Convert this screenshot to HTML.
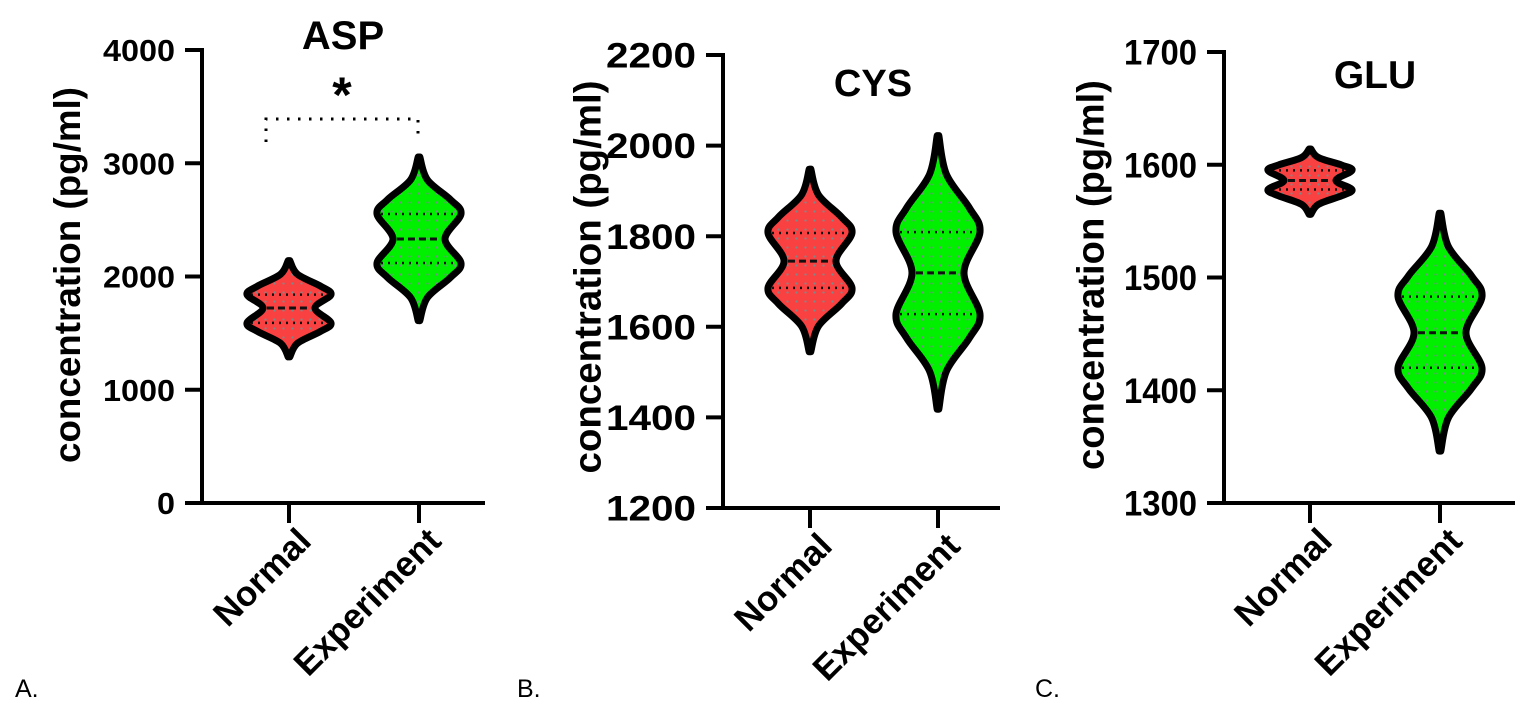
<!DOCTYPE html>
<html><head><meta charset="utf-8"><style>
html,body{margin:0;padding:0;background:#fff;}
svg{display:block;font-family:"Liberation Sans",Arial,sans-serif;}
</style></head><body>
<svg id="chart" width="1535" height="709" viewBox="0 0 1535 709" xmlns="http://www.w3.org/2000/svg">
<defs>
<pattern id="dots" patternUnits="userSpaceOnUse" width="9" height="9"><circle cx="4.5" cy="4.5" r="1.1" fill="#7a8a8a"/></pattern>
</defs>
</svg>
<script>
// ---- data ----
const categories = ["Normal", "Experiment"];
const panelTitles = ["ASP", "CYS", "GLU"];
const panelLetters = ["A.", "B.", "C."];
const ticksA = [0, 1000, 2000, 3000, 4000];
const ticksB = [1200, 1400, 1600, 1800, 2000, 2200];
const ticksC = [1300, 1400, 1500, 1600, 1700];
// [min, q1, median, q3, max]
const aspNormal = [1290, 1590, 1722, 1840, 2140];
const aspExperiment = [1610, 2119, 2331, 2552, 3055];
const cysNormal = [1545, 1686, 1745, 1807, 1948];
const cysExperiment = [1418, 1628, 1719, 1809, 2022];
const gluNormal = [1556, 1578, 1586, 1595, 1614];
const gluExperiment = [1346, 1420, 1451, 1483, 1557];

const NS = "http://www.w3.org/2000/svg";
const svg = document.getElementById("chart");
function mk(tag, attrs, parent) {
  const e = document.createElementNS(NS, tag);
  for (const k in attrs) e.setAttribute(k, attrs[k]);
  (parent || svg).appendChild(e);
  return e;
}

const panels = [
  {title: panelTitles[0], letter: panelLetters[0], ticks: ticksA, series: [aspNormal, aspExperiment],
   ax: 202, yTop: 50, yBot: 503, xEnd: 485, cx: [289, 419], hw: 42,
   tickFont: 31, tickLen: 72, labX: 67, labFont: 37, labLen: 376, labCy: 275,
   titleX: 343, titleY: 49, titleFont: 40, letterX: 15, sig: true},
  {title: panelTitles[1], letter: panelLetters[1], ticks: ticksB, series: [cysNormal, cysExperiment],
   ax: 723, yTop: 55, yBot: 508, xEnd: 1000, cx: [810, 938], hw: 42,
   tickFont: 35, tickLen: 90, labX: 587, labFont: 38, labLen: 393, labCy: 277,
   titleX: 873, titleY: 96, titleFont: 38, letterX: 517, sig: false},
  {title: panelTitles[2], letter: panelLetters[2], ticks: ticksC, series: [gluNormal, gluExperiment],
   ax: 1224, yTop: 52, yBot: 503, xEnd: 1515, cx: [1310, 1440], hw: 42,
   tickFont: 35, tickLen: 73, labX: 1090, labFont: 38, labLen: 390, labCy: 275,
   titleX: 1375, titleY: 88, titleFont: 39, letterX: 1035, sig: false}
];

function catmull(pts) {
  let d = "";
  for (let i = 0; i < pts.length - 1; i++) {
    const p0 = pts[Math.max(0, i - 1)], p1 = pts[i], p2 = pts[i + 1], p3 = pts[Math.min(pts.length - 1, i + 2)];
    const c1 = [p1[0] + (p2[0] - p0[0]) / 6, p1[1] + (p2[1] - p0[1]) / 6];
    const c2 = [p2[0] - (p3[0] - p1[0]) / 6, p2[1] - (p3[1] - p1[1]) / 6];
    d += ` C${c1[0].toFixed(1)},${c1[1].toFixed(1)} ${c2[0].toFixed(1)},${c2[1].toFixed(1)} ${p2[0].toFixed(1)},${p2[1].toFixed(1)}`;
  }
  return d;
}

panels.forEach((p, pi) => {
  const tmin = p.ticks[0], tmax = p.ticks[p.ticks.length - 1];
  const y = v => p.yBot - (v - tmin) / (tmax - tmin) * (p.yBot - p.yTop);
  const g = mk("g", {});
  
  

  const yAxis = mk("line", {x1: p.ax, y1: p.yTop - 2, x2: p.ax, y2: p.yBot + 2, stroke: "#000", "stroke-width": 4}, g);
  
  
  const xAxis = mk("line", {x1: p.ax - 2, y1: p.yBot, x2: p.xEnd, y2: p.yBot, stroke: "#000", "stroke-width": 4}, g);
  
  

  p.ticks.forEach(t => {
    const tk = mk("line", {x1: p.ax - 17, y1: y(t), x2: p.ax, y2: y(t), stroke: "#000", "stroke-width": 4}, g);
    
    
    const tl = mk("text", {x: p.ax - 27, y: y(t) + p.tickFont * 0.36, "text-anchor": "end", "font-size": p.tickFont, "font-weight": "bold",
      textLength: String(t).length === 1 ? p.tickLen / 4 : p.tickLen, lengthAdjust: "spacingAndGlyphs"}, g);
    tl.textContent = t;
    
    
  });

  const yl = mk("text", {x: 0, y: 0, "text-anchor": "middle", "font-size": p.labFont, "font-weight": "bold",
    textLength: p.labLen, lengthAdjust: "spacingAndGlyphs",
    transform: `translate(${p.labX + p.labFont * 0.35},${p.labCy}) rotate(-90)`}, g);
  yl.textContent = "concentration (pg/ml)";
  
  

  const tt = mk("text", {x: p.titleX, y: p.titleY, "text-anchor": "middle", "font-size": p.titleFont, "font-weight": "bold"}, g);
  tt.textContent = p.title;
  
  

  const lt = mk("text", {x: p.letterX, y: 697, "font-size": 25}, g);
  lt.textContent = p.letter;
  
  

  categories.forEach((c, ci) => {
    const cx = p.cx[ci];
    const tk = mk("line", {x1: cx, y1: p.yBot, x2: cx, y2: p.yBot + 20, stroke: "#000", "stroke-width": 4}, g);
    
    
    const cl = mk("text", {x: 0, y: 0, "text-anchor": "end", "font-size": 35, "font-weight": "bold",
      transform: `translate(${cx + 24},${p.yBot + 40}) rotate(-45)`}, g);
    cl.textContent = c;
    
    

    const s = p.series[ci];
    const [mn, q1, md, q3, mx] = s;
    const prof = [
      [mx, 0.02], [q3 + 0.6 * (mx - q3), 0.2], [q3 + 0.25 * (mx - q3), 0.75], [q3, 1],
      [md, 0.62], [q1, 1], [q1 - 0.25 * (q1 - mn), 0.75], [q1 - 0.6 * (q1 - mn), 0.2], [mn, 0.02]
    ];
    const right = prof.map(q => [cx + q[1] * p.hw, y(q[0])]);
    const left = prof.slice().reverse().map(q => [cx - q[1] * p.hw, y(q[0])]);
    let d = `M${cx},${y(mx)} L${right[0][0]},${right[0][1]}` + catmull(right) + ` L${cx},${y(mn)} L${left[0][0]},${left[0][1]}` + catmull(left) + " Z";
    const col = ci === 0 ? "#fa4141" : "#00f000";
    const vg = mk("g", {}, g);
    
    
    const body = mk("path", {d: d, fill: col, stroke: "none"}, vg);
    
    
    const dots = mk("path", {d: d, fill: "url(#dots)", stroke: "none"}, vg);
    
    
    [[q1, 1, "2 5", 2.5], [md, 0.62, "7 4", 3], [q3, 1, "2 5", 2.5]].forEach(L => {
      const ln = mk("line", {x1: cx - L[1] * p.hw + 4, x2: cx + L[1] * p.hw - 4, y1: y(L[0]), y2: y(L[0]),
        stroke: "#111", "stroke-width": L[3], "stroke-dasharray": L[2]}, vg);
      
      
    });
    const outline = mk("path", {d: d, fill: "none", stroke: "#000", "stroke-width": 7, "stroke-linejoin": "round"}, vg);
    
    
  });

  if (p.sig) {
    const by = 119, bb = 142;
    const br = mk("path", {d: `M${p.cx[0] - 23},${bb} L${p.cx[0] - 23},${by} L${p.cx[1] - 1},${by} L${p.cx[1] - 1},${bb}`,
      fill: "none", stroke: "#000", "stroke-width": 3, "stroke-dasharray": "2.5 8.5"}, g);
    
    
    const st = mk("text", {x: (p.cx[0] + p.cx[1]) / 2 - 12, y: 112, "text-anchor": "middle", "font-size": 50, "font-weight": "bold"}, g);
    st.textContent = "*";
    
    
  }
});
</script>
</body></html>
